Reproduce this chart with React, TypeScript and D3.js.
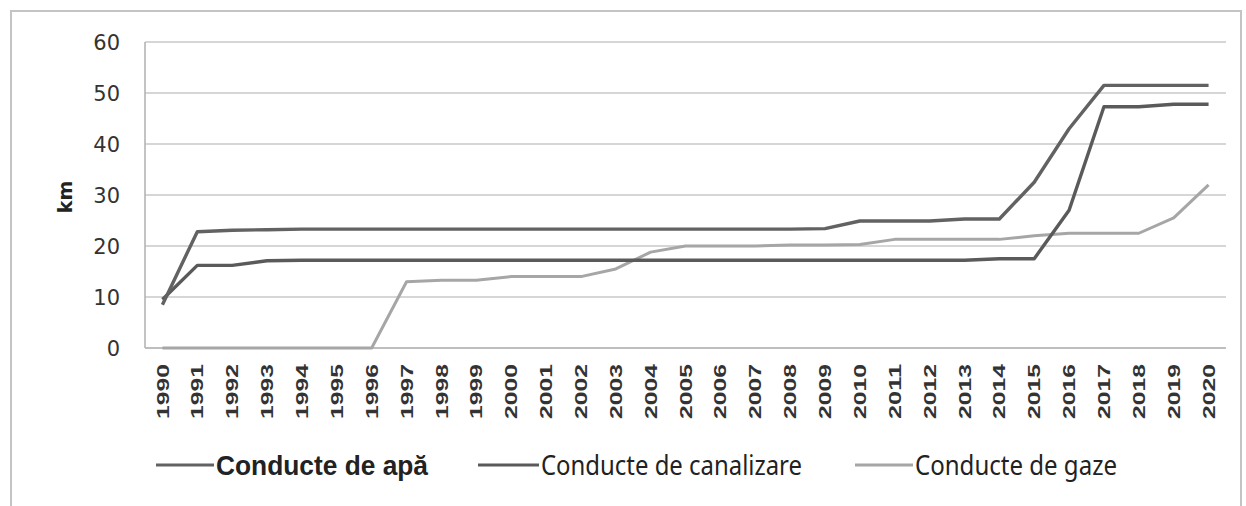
import React, { useEffect, useRef } from 'react';
import * as d3 from 'd3';

const years = [
  '1990', '1991', '1992', '1993', '1994', '1995', '1996', '1997', '1998', '1999',
  '2000', '2001', '2002', '2003', '2004', '2005', '2006', '2007', '2008', '2009',
  '2010', '2011', '2012', '2013', '2014', '2015', '2016', '2017', '2018', '2019', '2020',
];

// Conducte de apă
const apa = [
  8.5, 22.8, 23.1, 23.2, 23.3, 23.3, 23.3, 23.3, 23.3, 23.3,
  23.3, 23.3, 23.3, 23.3, 23.3, 23.3, 23.3, 23.3, 23.3, 23.4,
  24.9, 24.9, 24.9, 25.3, 25.3, 32.5, 43, 51.5, 51.5, 51.5, 51.5,
];

// Conducte de canalizare
const canalizare = [
  9.5, 16.2, 16.2, 17.1, 17.2, 17.2, 17.2, 17.2, 17.2, 17.2,
  17.2, 17.2, 17.2, 17.2, 17.2, 17.2, 17.2, 17.2, 17.2, 17.2,
  17.2, 17.2, 17.2, 17.2, 17.5, 17.5, 27, 47.3, 47.3, 47.8, 47.8,
];

// Conducte de gaze
const gaze = [
  0, 0, 0, 0, 0, 0, 0, 13, 13.3, 13.3,
  14, 14, 14, 15.5, 18.8, 20, 20, 20, 20.2, 20.2,
  20.3, 21.3, 21.3, 21.3, 21.3, 22, 22.5, 22.5, 22.5, 25.5, 32,
];

const yTicks = [0, 10, 20, 30, 40, 50, 60];

const seriesNames = ['Conducte de apă', 'Conducte de canalizare', 'Conducte de gaze'];

export default function App() {
  const ref = useRef<HTMLDivElement>(null);

  useEffect(() => {
    document.body.style.margin = '0';
    const node = ref.current;
    if (!node) return;
    d3.select(node).select('svg').remove();
    node.appendChild(drawChart());
    return () => {
      d3.select(node).selectAll('svg').remove();
    };
  }, []);

  function drawChart() {
    const width = 1246;
    const height = 506;
    const marginLeft = 145;
    const marginRight = 20;
    const yTop = 42;
    const yBottom = 348;

    const xScale = d3.scaleBand<string>().domain(years).range([marginLeft, width - marginRight]);
    const xPos = (i: number) => (xScale(years[i]) as number) + xScale.bandwidth() / 2;
    const yScale = d3.scaleLinear().domain([0, 60]).range([yBottom, yTop]);

    const svg = d3
      .create('svg')
      .attr('width', width)
      .attr('height', height)
      .attr('viewBox', [0, 0, width, height].join(' '))
      .style('display', 'block')
      .style('background', '#fff');

    // outer frame
    svg
      .append('rect')
      .attr('x', 11)
      .attr('y', 11)
      .attr('width', 1230)
      .attr('height', 520)
      .attr('fill', 'none')
      .attr('stroke', '#c4c4c4')
      .attr('stroke-width', 2);

    // grid
    svg
      .append('g')
      .selectAll('line')
      .data(yTicks)
      .join('line')
      .attr('x1', marginLeft)
      .attr('x2', width - marginRight)
      .attr('y1', (d) => yScale(d))
      .attr('y2', (d) => yScale(d))
      .attr('stroke', (d) => (d === 0 ? '#a8a8a8' : '#c8c8c8'))
      .attr('stroke-width', 1.6);

    svg
      .append('line')
      .attr('x1', marginLeft)
      .attr('x2', marginLeft)
      .attr('y1', yTop)
      .attr('y2', yBottom)
      .attr('stroke', '#b4b4b4')
      .attr('stroke-width', 1.6);

    // y tick labels
    svg
      .append('g')
      .selectAll('text')
      .data(yTicks)
      .join('text')
      .attr('x', 120)
      .attr('y', (d) => yScale(d))
      .attr('dy', '0.36em')
      .attr('text-anchor', 'end')
      .attr('font-family', 'DejaVu Sans, Verdana, sans-serif')
      .attr('font-size', 21)
      .attr('fill', '#333')
      .text((d) => d);

    // y title
    svg
      .append('text')
      .attr('transform', `translate(72,197) rotate(-90)`)
      .attr('text-anchor', 'middle')
      .attr('font-family', 'DejaVu Sans, Arial, sans-serif')
      .attr('font-weight', 'bold')
      .attr('font-size', 19)
      .attr('fill', '#222')
      .text('km');

    // x tick labels
    svg
      .append('g')
      .selectAll('text')
      .data(years)
      .join('text')
      .attr('transform', (d, i) => `translate(${xPos(i)},364) rotate(-90)`)
      .attr('dy', '0.36em')
      .attr('text-anchor', 'end')
      .attr('font-family', 'Liberation Sans, Arial, sans-serif')
      .attr('font-weight', 'bold')
      .attr('font-size', 17)
      .attr('textLength', 55)
      .attr('lengthAdjust', 'spacingAndGlyphs')
      .attr('fill', '#333')
      .text((d) => d);

    const series = [
      { name: seriesNames[0], values: apa, color: '#626262', width: 3.4 },
      { name: seriesNames[1], values: canalizare, color: '#5a5a5a', width: 3.4 },
      { name: seriesNames[2], values: gaze, color: '#a6a6a6', width: 3 },
    ];

    const line = d3
      .line<number>()
      .x((d, i) => xPos(i))
      .y((d) => yScale(d));

    // draw gaze first, dark lines on top
    svg
      .append('g')
      .selectAll('path')
      .data([series[2], series[1], series[0]])
      .join('path')
      .attr('fill', 'none')
      .attr('stroke', (s) => s.color)
      .attr('stroke-width', (s) => s.width)
      .attr('stroke-linejoin', 'round')
      .attr('d', (s) => line(s.values));

    // legend
    const legend = [
      { ...series[0], x: 156, tx: 216, len: 212, font: 'Liberation Sans, Arial, sans-serif', weight: 'bold', size: 28 },
      { ...series[1], x: 478, tx: 541, len: 261, font: 'Noto Sans, sans-serif', weight: 'normal', size: 28 },
      { ...series[2], x: 855, tx: 915, len: 202, font: 'Noto Sans, sans-serif', weight: 'normal', size: 28 },
    ];
    const lg = svg.append('g').selectAll('g').data(legend).join('g');
    lg.append('line')
      .attr('x1', (d) => d.x)
      .attr('x2', (d) => d.tx - 2)
      .attr('y1', 465)
      .attr('y2', 465)
      .attr('stroke', (d) => d.color)
      .attr('stroke-width', 3);
    lg.append('text')
      .attr('x', (d) => d.tx)
      .attr('y', 465)
      .attr('dy', '0.35em')
      .attr('font-family', (d) => d.font)
      .attr('font-weight', (d) => d.weight)
      .attr('font-size', (d) => d.size)
      .attr('textLength', (d) => d.len)
      .attr('lengthAdjust', 'spacingAndGlyphs')
      .attr('fill', '#222')
      .text((d) => d.name);

    return svg.node() as SVGSVGElement;
  }

  return <div ref={ref}></div>;
}
